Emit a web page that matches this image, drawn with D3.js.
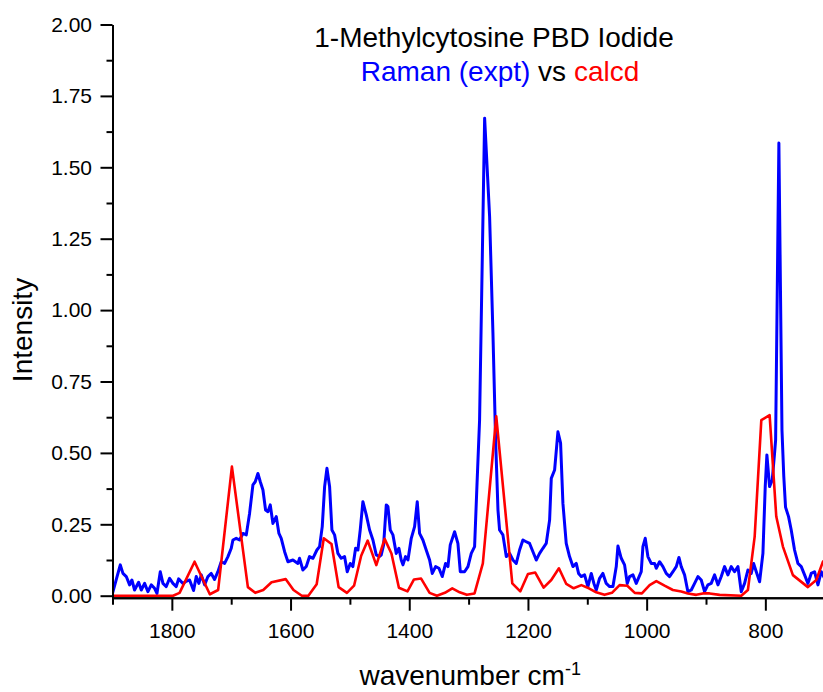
<!DOCTYPE html>
<html>
<head>
<meta charset="utf-8">
<script src="https://cdn.jsdelivr.net/npm/d3@7"></script>
<style>
  html, body { margin: 0; padding: 0; background: #fff; }
  svg { display: block; font-family: "Liberation Sans", Arial, sans-serif; }
</style>
</head>
<body>
<svg id="chart" width="823" height="692"></svg>
<script>
// ---- Data ----
const ramanWavenumber = [
  1900, 1886.9, 1882.4, 1876.8, 1871.2, 1867.3, 1862.8, 1856.0, 1851.5, 1845.9,
  1840.3, 1834.7, 1829.1, 1825.1, 1819.5, 1815.0, 1809.4, 1803.8, 1798.2, 1792.6,
  1788.6, 1781.3, 1776.9, 1770.1, 1763.4, 1758.9, 1754.4, 1750.4, 1744.8, 1739.2,
  1733.6, 1728.0, 1722.4, 1716.8, 1711.1, 1705.5, 1699.9, 1697.1, 1691.5, 1685.9,
  1680.2, 1674.6, 1669.0, 1663.4, 1659.5, 1655.0, 1651.0, 1646.5, 1642.1, 1638.1,
  1634.2, 1629.7, 1624.1, 1619.6, 1615.7, 1610.0, 1604.4, 1596.0, 1587.6, 1584.8,
  1579.2, 1573.5, 1568.0, 1562.3, 1555.6, 1551.1, 1546.6, 1542.6, 1538.7, 1534.2,
  1530.3, 1525.8, 1520.2, 1514.6, 1509.0, 1504.5, 1499.4, 1495.0, 1490.4, 1486.5,
  1482.6, 1478.1, 1472.4, 1466.8, 1461.2, 1455.6, 1450.0, 1447.2, 1443.2, 1438.7,
  1435.9, 1432.0, 1427.5, 1421.9, 1417.4, 1413.5, 1410.6, 1406.2, 1402.2, 1396.6,
  1391.0, 1386.5, 1382.6, 1377.0, 1371.4, 1365.7, 1361.2, 1355.6, 1350.0, 1344.4,
  1338.8, 1334.8, 1330.9, 1323.6, 1318.0, 1314.0, 1306.8, 1301.1, 1295.5, 1289.9,
  1286.0, 1281.5, 1273.0, 1264.6, 1259.0, 1254.5, 1250.5, 1247.8, 1242.2, 1236.5,
  1230.9, 1225.3, 1219.7, 1214.1, 1208.5, 1202.9, 1197.2, 1191.6, 1186.0, 1180.4,
  1174.8, 1169.2, 1163.5, 1160.7, 1155.1, 1149.5, 1145.0, 1141.1, 1135.5, 1129.9,
  1124.2, 1118.6, 1114.7, 1110.2, 1104.6, 1099.0, 1093.3, 1088.9, 1084.9, 1079.3,
  1073.7, 1068.1, 1062.4, 1056.8, 1051.2, 1048.4, 1042.8, 1037.2, 1032.7, 1028.7,
  1023.1, 1017.5, 1009.1, 1006.3, 1002.4, 997.9, 992.3, 986.6, 983.8, 978.2,
  972.6, 967.0, 961.4, 955.7, 950.1, 945.6, 941.7, 936.1, 930.5, 924.8,
  919.2, 913.6, 908.0, 902.4, 896.8, 891.2, 885.5, 879.9, 874.3, 868.7,
  863.1, 857.5, 851.9, 846.2, 840.6, 835.0, 829.4, 823.8, 819.8, 815.3,
  809.7, 804.1, 800.2, 797.4, 792.9, 788.4, 784.5, 782.7, 777.2, 772.0,
  769.0, 766.0, 760.9, 756.4, 750.8, 745.1, 739.5, 733.9, 728.3, 722.7,
  717.1, 711.4, 705.8, 700
];
const ramanIntensity = [
  0.008, 0.108, 0.078, 0.067, 0.038, 0.055, 0.020, 0.047, 0.020, 0.043,
  0.014, 0.038, 0.026, 0.008, 0.084, 0.043, 0.032, 0.061, 0.043, 0.032,
  0.059, 0.043, 0.049, 0.055, 0.018, 0.067, 0.043, 0.073, 0.038, 0.067,
  0.078, 0.057, 0.084, 0.119, 0.113, 0.137, 0.166, 0.195, 0.201, 0.195,
  0.218, 0.213, 0.289, 0.388, 0.399, 0.428, 0.399, 0.370, 0.300, 0.294,
  0.318, 0.253, 0.277, 0.218, 0.201, 0.154, 0.119, 0.125, 0.113, 0.131,
  0.090, 0.102, 0.137, 0.131, 0.160, 0.172, 0.242, 0.382, 0.446, 0.382,
  0.230, 0.213, 0.148, 0.131, 0.137, 0.084, 0.113, 0.102, 0.166, 0.160,
  0.230, 0.329, 0.283, 0.230, 0.195, 0.143, 0.137, 0.143, 0.178, 0.318,
  0.312, 0.230, 0.213, 0.148, 0.166, 0.125, 0.108, 0.137, 0.125, 0.201,
  0.242, 0.329, 0.218, 0.195, 0.160, 0.125, 0.078, 0.102, 0.096, 0.067,
  0.113, 0.102, 0.178, 0.224, 0.183, 0.084, 0.084, 0.102, 0.148, 0.172,
  0.382, 0.615, 1.672, 1.327, 0.920, 0.545, 0.300, 0.230, 0.213, 0.137,
  0.148, 0.125, 0.113, 0.160, 0.195, 0.189, 0.183, 0.154, 0.125, 0.148,
  0.166, 0.183, 0.265, 0.411, 0.440, 0.574, 0.534, 0.324, 0.183, 0.137,
  0.102, 0.113, 0.078, 0.067, 0.073, 0.032, 0.078, 0.043, 0.020, 0.061,
  0.078, 0.043, 0.032, 0.032, 0.102, 0.174, 0.131, 0.108, 0.043, 0.067,
  0.073, 0.043, 0.084, 0.172, 0.201, 0.137, 0.113, 0.113, 0.096, 0.119,
  0.102, 0.078, 0.067, 0.084, 0.102, 0.134, 0.102, 0.073, 0.014, 0.020,
  0.043, 0.067, 0.055, 0.014, 0.038, 0.043, 0.073, 0.038, 0.067, 0.102,
  0.073, 0.102, 0.084, 0.102, 0.014, 0.043, 0.090, 0.078, 0.113, 0.084,
  0.049, 0.148, 0.382, 0.493, 0.382, 0.405, 0.498, 0.545, 1.585, 0.580,
  0.420, 0.310, 0.277, 0.230, 0.160, 0.113, 0.102, 0.073, 0.043, 0.078,
  0.084, 0.038, 0.084, 0.060
];
const calcdWavenumber = [
  1900, 1798, 1787, 1761.7, 1736, 1722, 1698.8, 1671.9, 1659.5, 1646,
  1632, 1608, 1595, 1581, 1570, 1556, 1544, 1531, 1519, 1505,
  1493, 1481, 1470, 1455.5, 1441.5, 1430, 1417.4, 1403, 1392, 1380,
  1365.7, 1353.4, 1340, 1327.5, 1315, 1303, 1290, 1276, 1253.4, 1226.4,
  1213, 1200, 1187.7, 1173.6, 1160.7, 1147.8, 1135.4, 1123, 1110, 1097.3,
  1085, 1071, 1058.5, 1045.6, 1032.6, 1020, 1008, 995, 983.7, 969.8,
  955.8, 941.7, 930.5, 916.4, 905.2, 894, 877, 840.5, 829.4, 818,
  806.8, 792.8, 781.6, 770.4, 753.6, 728.3, 714.2, 703, 700
];
const calcdIntensity = [
  0, 0, 0.010, 0.119, 0.005, 0.020, 0.452, 0.030, 0.010, 0.020,
  0.047, 0.058, 0.020, 0, 0, 0.040, 0.201, 0.181, 0.030, 0.010,
  0.035, 0.140, 0.193, 0.107, 0.199, 0.148, 0.028, 0.015, 0.057, 0.060,
  0.010, 0, 0.010, 0.026, 0.012, 0.003, 0.008, 0.113, 0.628, 0.043,
  0.015, 0.076, 0.081, 0.028, 0.055, 0.096, 0.041, 0.026, 0.037, 0.026,
  0.012, 0.003, 0.010, 0.037, 0.035, 0.010, 0.008, 0.037, 0.051, 0.035,
  0.020, 0.015, 0.008, 0.003, 0.008, 0.008, 0.003, 0, 0.020, 0.207,
  0.615, 0.632, 0.277, 0.172, 0.072, 0.030, 0.055, 0.119, 0.125
];
const yMajorTicks = [0, 0.25, 0.5, 0.75, 1.0, 1.25, 1.5, 1.75, 2.0];
const yMinorTicks = [0.125, 0.375, 0.625, 0.875, 1.125, 1.375, 1.625, 1.875];
const xMajorTicks = [1800, 1600, 1400, 1200, 1000, 800];
const xMinorTicks = [1900, 1700, 1500, 1300, 1100, 900, 700];
const titleLine1 = "1-Methylcytosine PBD Iodide";

// ---- Layout ----
const svg = d3.select("#chart");
const left = 112.5;
const x = d3.scaleLinear().domain([1900, 700]).range([left, left + 712.2]);
const y = d3.scaleLinear().domain([-0.007, 2]).range([597.7, 24.5]);
const bottom = y(-0.007);

const ramanData = ramanWavenumber.map((w, i) => [w, ramanIntensity[i]]);
const calcdData = calcdWavenumber.map((w, i) => [w, calcdIntensity[i]]);

svg.append("defs").append("clipPath").attr("id", "plotclip")
  .append("rect").attr("x", left).attr("y", 0).attr("width", 823 - left).attr("height", bottom);

const line = d3.line().x(d => x(d[0])).y(d => y(d[1]));
const plot = svg.append("g").attr("clip-path", "url(#plotclip)");
plot.append("path").datum(ramanData)
  .attr("fill", "none").attr("stroke", "#0000ff").attr("stroke-width", 3)
  .attr("stroke-linejoin", "round").attr("d", line);
plot.append("path").datum(calcdData)
  .attr("fill", "none").attr("stroke", "#ff0000").attr("stroke-width", 2.6)
  .attr("stroke-linejoin", "round").attr("d", line);

// ---- Axes ----
function styleAxis(g) {
  g.selectAll("path, line").attr("stroke", "#000").attr("stroke-width", 2);
  g.selectAll("text").attr("fill", "#000").attr("font-size", "21px")
    .attr("font-family", "'Liberation Sans', Arial, sans-serif");
}
const yAxisMinor = svg.append("g").attr("transform", `translate(${left},0)`)
  .call(d3.axisLeft(y).tickValues(yMinorTicks).tickSize(6).tickSizeOuter(0).tickFormat(""));
styleAxis(yAxisMinor);
const yAxis = svg.append("g").attr("transform", `translate(${left},0)`)
  .call(d3.axisLeft(y).tickValues(yMajorTicks).tickSize(12).tickSizeOuter(0).tickPadding(8.5).tickFormat(d3.format(".2f")));
styleAxis(yAxis);

const xAxisMinor = svg.append("g").attr("transform", `translate(0,${bottom})`)
  .call(d3.axisBottom(x).tickValues(xMinorTicks).tickSize(7).tickSizeOuter(0).tickFormat(""));
styleAxis(xAxisMinor);
const xAxis = svg.append("g").attr("transform", `translate(0,${bottom})`)
  .call(d3.axisBottom(x).tickValues(xMajorTicks).tickSize(13).tickSizeOuter(0).tickPadding(12).tickFormat(d3.format("d")));
styleAxis(xAxis);

// ---- Titles ----
svg.append("text").attr("x", 494).attr("y", 46.5).attr("text-anchor", "middle")
  .attr("font-size", "28px").attr("fill", "#000").text(titleLine1);
const t2 = svg.append("text").attr("x", 500).attr("y", 81).attr("text-anchor", "middle")
  .attr("font-size", "28px");
t2.append("tspan").attr("fill", "#0000ff").text("Raman (expt)");
t2.append("tspan").attr("fill", "#000").text(" vs ");
t2.append("tspan").attr("fill", "#ff0000").text("calcd");

const xt = svg.append("text").attr("x", 359.5).attr("y", 685).attr("font-size", "28px").attr("fill", "#000");
xt.append("tspan").text("wavenumber cm");
xt.append("tspan").attr("font-size", "18px").attr("dy", -10).text("-1");

svg.append("text").attr("transform", "translate(31.5,330) rotate(-90)")
  .attr("text-anchor", "middle").attr("font-size", "28px").attr("fill", "#000").text("Intensity");
</script>
</body>
</html>
